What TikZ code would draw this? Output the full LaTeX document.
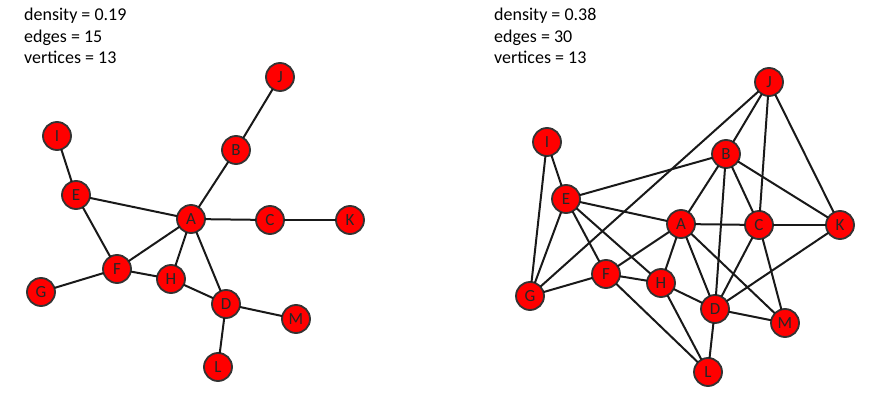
\documentclass[tikz,border=0pt]{standalone}
\usepackage{fontspec}
\setmainfont{Carlito}
\usepackage{tkz-graph}
\newcommand{\vfont}{\fontsize{17}{17}\selectfont}

\begin{document}
\begin{tikzpicture}[x=1pt,y=-1pt]
    \GraphInit[vstyle=Normal]
    \SetVertexNormal[Shape=circle,FillColor=red,LineColor=black!80,LineWidth=1.8pt,
      MinSize=28pt,InnerSep=0pt]
    \SetUpEdge[lw=2pt,color=black!90]
    \tikzset{VertexStyle/.append style={text=black!85},
      EdgeStyle/.append style={line width=2pt},
      stats/.style={anchor=north west,align=left,inner sep=0pt,
        font=\fontsize{18}{21.5}\selectfont}}
    \useasboundingbox (0,0) rectangle (871,403);
    % sparse graph
    \node[stats] (statsL) at (24,8) {density = 0.19\\edges = 15\\vertices = 13};
    \Vertex[x=280,y=77,L={\vfont J}]{J1}
    \Vertex[x=57,y=136,L={\vfont I}]{I1}
    \Vertex[x=236,y=150,L={\vfont B}]{B1}
    \Vertex[x=76,y=195,L={\vfont E}]{E1}
    \Vertex[x=191,y=219,L={\vfont A}]{A1}
    \Vertex[x=270,y=220,L={\vfont C}]{C1}
    \Vertex[x=350,y=220,L={\vfont K}]{K1}
    \Vertex[x=117,y=269,L={\vfont F}]{F1}
    \Vertex[x=171,y=279,L={\vfont H}]{H1}
    \Vertex[x=41,y=292,L={\vfont G}]{G1}
    \Vertex[x=226,y=304,L={\vfont D}]{D1}
    \Vertex[x=296,y=319,L={\vfont M}]{M1}
    \Vertex[x=218,y=367,L={\vfont L}]{L1}
    \Edges(J1, B1, A1, C1, K1)
    \Edges(I1, E1, A1, F1, G1)
    \Edges(E1, F1, H1, D1, M1)
    \Edges(A1, H1)
    \Edges(A1, D1, L1)
    % dense graph
    \node[stats] (statsR) at (494,8) {density = 0.38\\edges = 30\\vertices = 13};
    \Vertex[x=769,y=82,L={\vfont J}]{J2}
    \Vertex[x=547,y=142,L={\vfont I}]{I2}
    \Vertex[x=726,y=154,L={\vfont B}]{B2}
    \Vertex[x=566,y=199,L={\vfont E}]{E2}
    \Vertex[x=681,y=224,L={\vfont A}]{A2}
    \Vertex[x=759,y=225,L={\vfont C}]{C2}
    \Vertex[x=840,y=225,L={\vfont K}]{K2}
    \Vertex[x=606,y=274,L={\vfont F}]{F2}
    \Vertex[x=661,y=283,L={\vfont H}]{H2}
    \Vertex[x=530,y=296,L={\vfont G}]{G2}
    \Vertex[x=715,y=309,L={\vfont D}]{D2}
    \Vertex[x=785,y=323,L={\vfont M}]{M2}
    \Vertex[x=708,y=372,L={\vfont L}]{L2}
    \Edges(G2, J2, B2, E2, I2, G2, E2, A2, B2, D2, C2, B2, K2, J2, C2, K2, D2)
    \Edges(E2, F2, G2)
    \Edges(E2, H2, L2, F2, H2, A2, F2)
    \Edges(C2, A2, D2, H2)
    \Edges(A2, M2, C2)
    \Edges(M2, D2, L2)
\end{tikzpicture}
\end{document}
